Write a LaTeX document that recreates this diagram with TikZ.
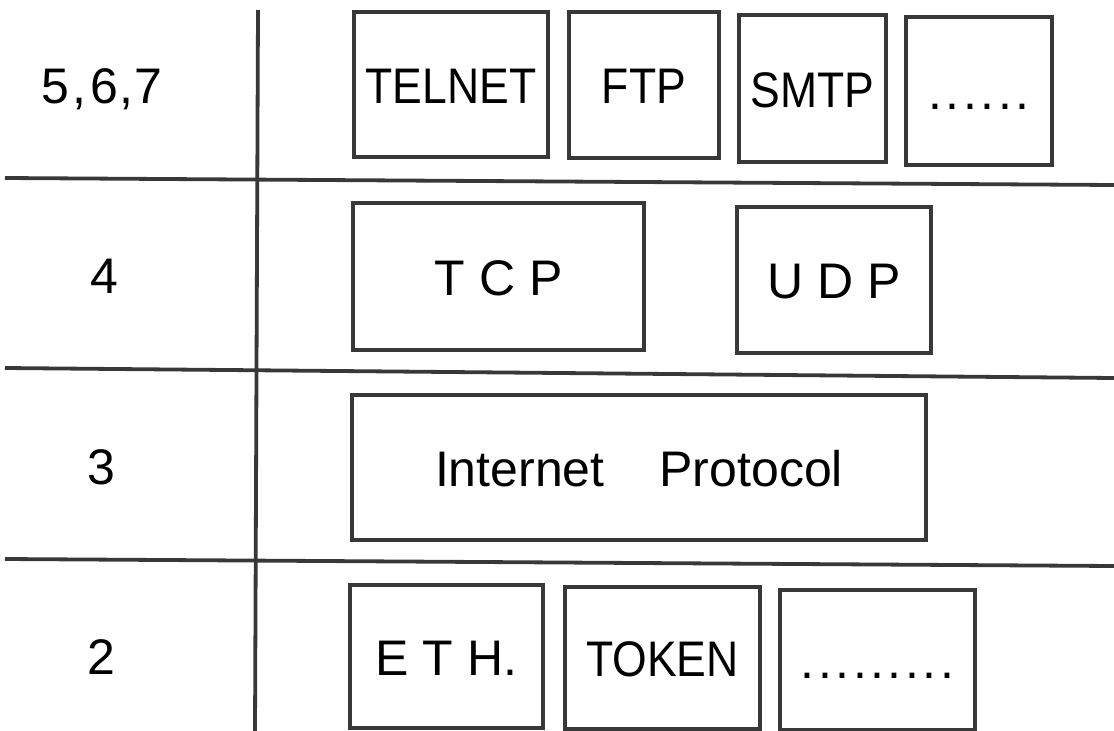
\documentclass[tikz,border=0pt]{standalone}
\usepackage{fontspec}
\setmainfont{Liberation Sans}
\newfontfamily\narrowsf{Liberation Sans}[FakeStretch=0.89]
\newcommand{\dd}{.\kern3.5pt}

\tikzset{
  rule/.style={line width=3.8pt, draw=black!78},
  protobox/.style={draw=black!78, line width=3.8pt, inner sep=0pt,
    text height=37pt, text depth=0pt, font=\fontsize{50}{56}\selectfont},
  layer/.style={anchor=base, inner sep=0pt, font=\fontsize{50}{56}\selectfont},
}

\begin{document}
\begin{tikzpicture}[x=1pt, y=-1pt]
  \useasboundingbox (0,0) rectangle (1114,731);
  % layer rules
  \draw[rule] (258,10) -- (255,731);
  \draw[rule] (5,178) -- (1114,185);
  \draw[rule] (5,368) -- (1114,378);
  \draw[rule] (5,559) -- (1114,566);
  % layer numbers
  \node[layer] (l567) at (102,103) {5\kern3pt,\kern4pt6\kern1pt,\kern1pt7};
  \node[layer] (l4) at (104,293) {4};
  \node[layer] (l3) at (101,484) {3};
  \node[layer] (l2) at (101,674) {2};
  % application layer
  \node[protobox, minimum width=194pt, minimum height=145pt] (telnet) at (451,84.5) {\narrowsf TELNET};
  \node[protobox, minimum width=150pt, minimum height=146pt] (ftp) at (644,85) {\narrowsf FTP};
  \node[protobox, minimum width=147pt, minimum height=147pt] (smtp) at (812.5,88.5) {\narrowsf SMTP};
  \node[protobox, minimum width=146pt, minimum height=148pt] (appmore) at (979,91) {\dd\dd\dd\dd\dd.};
  % transport layer
  \node[protobox, minimum width=291pt, minimum height=147pt] (tcp) at (498.5,276.5) {T C P\hspace{48pt}};
  \node[protobox, minimum width=194pt, minimum height=146pt] (udp) at (834,280) {U D P};
  % network layer
  \node[protobox, minimum width=574pt, minimum height=145pt] (ip) at (639,467.5) {Internet\hspace{55pt}Protocol\hspace{46pt}};
  % link layer
  \node[protobox, minimum width=193pt, minimum height=143pt] (eth) at (446.5,656.5) {E T H.};
  \node[protobox, minimum width=195pt, minimum height=142pt] (token) at (662.5,658) {\narrowsf TOKEN};
  \node[protobox, minimum width=195pt, minimum height=140pt] (linkmore) at (877.5,660) {\dd\dd\dd\dd\dd\dd\dd\dd.};
\end{tikzpicture}
\end{document}
